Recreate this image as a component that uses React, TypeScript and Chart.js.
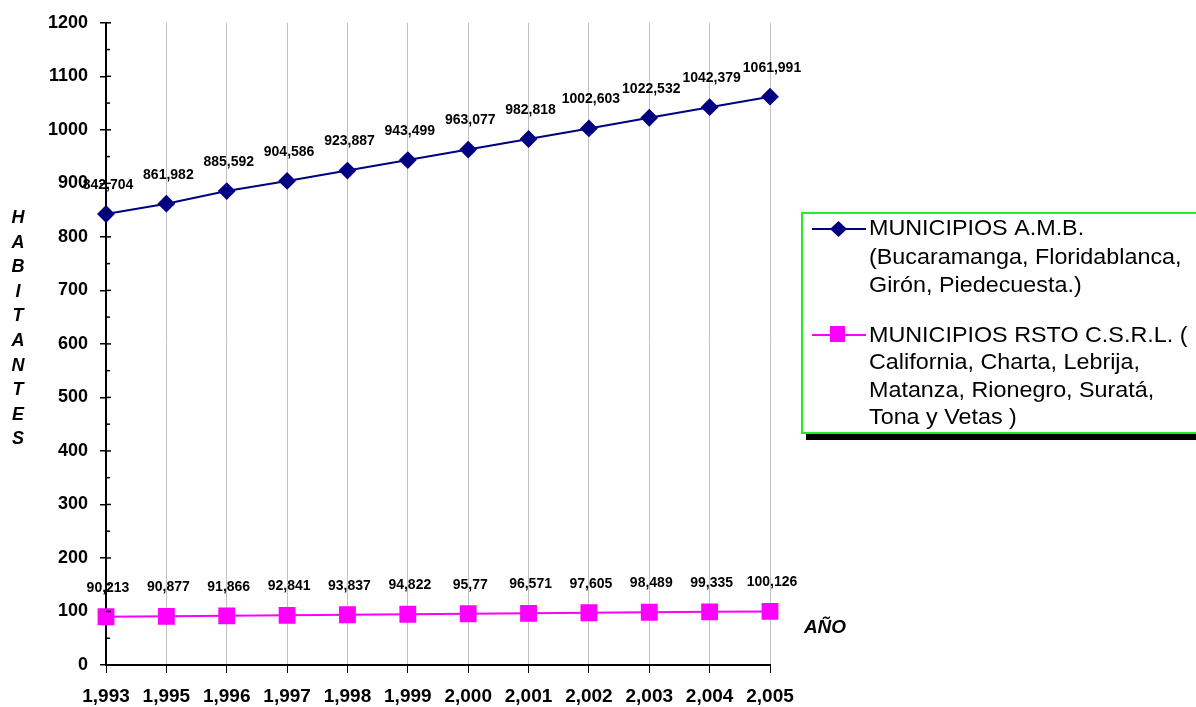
import React, { useEffect, useRef } from "react";
import { Chart, registerables } from "chart.js";
Chart.register(...registerables);

const years = ["1,993", "1,995", "1,996", "1,997", "1,998", "1,999", "2,000", "2,001", "2,002", "2,003", "2,004", "2,005"];
const amb = [842.704, 861.982, 885.592, 904.586, 923.887, 943.499, 963.077, 982.818, 1002.603, 1022.532, 1042.379, 1061.991];
const ambLabels = ["842,704", "861,982", "885,592", "904,586", "923,887", "943,499", "963,077", "982,818", "1002,603", "1022,532", "1042,379", "1061,991"];
const rsto = [90.213, 90.877, 91.866, 92.841, 93.837, 94.822, 95.77, 96.571, 97.605, 98.489, 99.335, 100.126];
const rstoLabels = ["90,213", "90,877", "91,866", "92,841", "93,837", "94,822", "95,77", "96,571", "97,605", "98,489", "99,335", "100,126"];
const legendAmb = ["MUNICIPIOS A.M.B.", "(Bucaramanga, Floridablanca,", "Girón, Piedecuesta.)"];
const legendRsto = ["MUNICIPIOS RSTO C.S.R.L. (", "California, Charta, Lebrija,", "Matanza, Rionegro, Suratá,", "Tona y Vetas )"];
const yTitle = "HABITANTES";
const xTitle = "AÑO";

const NAVY = "#000080";
const PINK = "#ff00ff";
const FONT = "'Liberation Sans', Arial, sans-serif";

const extras = {
  id: "extras",
  afterDatasetsDraw(chart: any) {
    const ctx = chart.ctx;
    const ys = chart.scales.y;
    const ca = chart.chartArea;
    ctx.save();
    // minor ticks and inner parts of major ticks
    ctx.strokeStyle = "#000";
    ctx.lineWidth = 1.5;
    for (let v = 0; v <= 1200; v += 50) {
      const py = ys.getPixelForValue(v);
      ctx.beginPath();
      ctx.moveTo(ca.left, py);
      ctx.lineTo(ca.left + (v % 100 === 0 ? 5 : 4), py);
      ctx.stroke();
    }
    // data labels
    ctx.fillStyle = "#000";
    ctx.font = `bold 14px ${FONT}`;
    ctx.textAlign = "center";
    ctx.textBaseline = "middle";
    const lbls = [ambLabels, rstoLabels];
    chart.data.datasets.forEach((ds: any, i: number) => {
      const meta = chart.getDatasetMeta(i);
      meta.data.forEach((pt: any, j: number) => {
        ctx.fillText(lbls[i][j], pt.x + 2, pt.y - 29);
      });
    });
    // axis titles
    ctx.font = `italic bold 18px ${FONT}`;
    for (let k = 0; k < yTitle.length; k++) {
      ctx.fillText(yTitle[k], 18, 218 + k * 24.6);
    }
    ctx.font = `italic bold 19px ${FONT}`;
    ctx.fillText(xTitle, 825, 628);
    // legend
    const lx = 802, ly = 213, lw = 398, lh = 220;
    ctx.fillStyle = "#000";
    ctx.fillRect(lx + 4, ly + lh, lw, 7);
    ctx.fillStyle = "#fff";
    ctx.fillRect(lx, ly, lw, lh);
    ctx.strokeStyle = "#22ee22";
    ctx.lineWidth = 2;
    ctx.strokeRect(lx, ly, lw, lh);
    ctx.fillStyle = "#000";
    ctx.textAlign = "left";
    ctx.font = `21.5px ${FONT}`;
    const drawStretched = (t: string, x: number, y: number) => {
      ctx.save();
      ctx.translate(x, y);
      ctx.scale(1.085, 1);
      ctx.fillText(t, 0, 0);
      ctx.restore();
    };
    const y1 = [229, 258, 286];
    const y2 = [336, 363, 391, 418];
    legendAmb.forEach((t, k) => drawStretched(t, 869, y1[k]));
    legendRsto.forEach((t, k) => drawStretched(t, 869, y2[k]));
    ctx.lineWidth = 2;
    ctx.strokeStyle = NAVY;
    ctx.beginPath(); ctx.moveTo(812, 229); ctx.lineTo(866, 229); ctx.stroke();
    ctx.fillStyle = NAVY;
    ctx.beginPath(); ctx.moveTo(838.5, 221); ctx.lineTo(847, 229); ctx.lineTo(838.5, 237); ctx.lineTo(830, 229); ctx.closePath(); ctx.fill();
    ctx.strokeStyle = PINK;
    ctx.beginPath(); ctx.moveTo(812, 335); ctx.lineTo(866, 335); ctx.stroke();
    ctx.fillStyle = PINK;
    ctx.fillRect(830, 326, 15, 16);
    ctx.restore();
  },
};

export default function App() {
  const ref = useRef<HTMLCanvasElement>(null);
  useEffect(() => {
    document.body.style.margin = "0";
    const chart = new Chart(ref.current!, {
      type: "line",
      data: {
        labels: years,
        datasets: [
          { label: legendAmb.join(" "), data: amb, borderColor: NAVY, backgroundColor: NAVY, borderWidth: 2, pointStyle: "rectRot", pointRadius: 7.5, pointHoverRadius: 7.5, tension: 0 },
          { label: legendRsto.join(" "), data: rsto, borderColor: PINK, backgroundColor: PINK, borderWidth: 2, pointStyle: "rect", pointRadius: 10.5, pointHoverRadius: 10.5, tension: 0 },
        ],
      },
      options: {
        animation: false,
        responsive: false,
        maintainAspectRatio: false,
        layout: { padding: { left: 0, top: 20, right: 426, bottom: 0 } },
        plugins: { legend: { display: false }, tooltip: { enabled: false } },
        scales: {
          x: {
            offset: false,
            grid: { color: "#c0c0c0", tickColor: "#000", tickLength: 8, lineWidth: 1 },
            border: { color: "#000", width: 2 },
            ticks: { color: "#000", font: { family: FONT, size: 19, weight: "bold" }, padding: 12, maxRotation: 0, autoSkip: false },
            afterFit: (s: any) => { s.height = 42; },
          },
          y: {
            min: 0,
            max: 1200,
            ticks: { stepSize: 100, color: "#000", font: { family: FONT, size: 18, weight: "bold" }, padding: 12, callback: (v: any) => String(v) },
            grid: { drawOnChartArea: false, drawTicks: true, tickLength: 6, color: "#000", lineWidth: 1.5 },
            border: { color: "#000", width: 2 },
            afterFit: (s: any) => { s.width = 106; },
          },
        },
      },
      plugins: [extras],
    });
    return () => chart.destroy();
  }, []);
  return (
    <div style={{ position: "absolute", left: 0, top: 0, width: 1196, height: 707 }}>
      <canvas ref={ref} width={1196} height={707} style={{ width: 1196, height: 707 }} />
    </div>
  );
}
